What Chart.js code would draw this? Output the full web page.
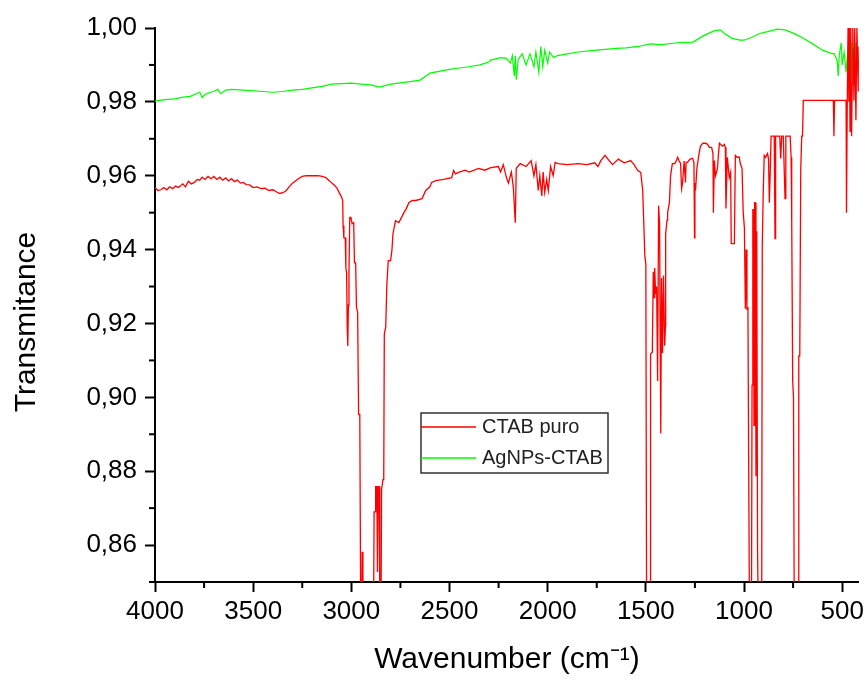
<!DOCTYPE html>
<html>
<head>
<meta charset="utf-8">
<script src="https://cdn.jsdelivr.net/npm/chart.js@4.4.0/dist/chart.umd.min.js"></script>
<style>
body{margin:0;background:#fff;}
#caja{width:868px;height:685px;}
</style>
</head>
<body>
<div id="caja"><canvas id="grafica" width="868" height="685"></canvas></div>
<script>

// CTAB puro (cm-1 / transmitancia)
const ctabWn = [
4000,3985,3970,3955,3940,3925,3910,3895,3880,3858,3845,3830,3815,3800,3785,3772,3760,3745,3730,3715,
3700,3685,3670,3655,3640,3625,3610,3595,3580,3565,3550,3535,3518,3500,3480,3460,3440,3420,3400,3380,
3365,3350,3335,3320,3300,3285,3270,3250,3230,3200,3170,3148,3130,3115,3103,3090,3075,3062,3048,3044,
3042,3038,3031,3028,3024,3021,3018,3015,3012,3008,3002,2996,2988,2984,2978,2974,2968,2963,2957,2952,
2947,2945,2941,2887,2884,2879,2876,2870,2867,2863,2858,2855,2849,2846,2839,2835,2832,2825,2819,2812,
2800,2793,2788,2775,2758,2732,2720,2707,2690,2672,2640,2621,2600,2591,2570,2530,2489,2479,2470,2454,
2420,2400,2352,2320,2290,2251,2240,2226,2210,2200,2185,2175,2165,2160,2140,2110,2084,2070,2060,2048,
2040,2030,2023,2015,2005,1997,1985,1972,1962,1947,1900,1845,1800,1760,1744,1730,1708,1693,1670,1640,
1610,1577,1560,1541,1526,1516,1505,1500,1496,1478,1476,1467,1462,1458,1455,1450,1445,1440,1435,1430,
1424,1420,1415,1410,1404,1400,1399,1392,1389,1380,1374,1365,1353,1345,1338,1330,1323,1318,1313,1305,
1298,1295,1288,1275,1262,1255,1252,1250,1247,1240,1232,1222,1210,1195,1186,1176,1165,1158,1156,1151,
1145,1135,1130,1125,1110,1100,1095,1092,1085,1075,1068,1065,1049,1044,1035,1024,1019,1010,1004,998,
993,989,985,980,976,972,962,959,955,952,949,946,943,939,935,931,927,910,907,902,
897,890,885,880,875,871,867,862,852,846,842,839,830,818,813,808,800,791,787,775,
765,760,757,752,748,744,724,721,716,711,706,702,698,600,545,542,539,480,478,474,
470,466,463,460,456,452,449,446,440,436,430,425,418,415
];
const ctabT = [
0.9568,0.9560,0.9562,0.9568,0.9562,0.9570,0.9565,0.9572,0.9568,0.9578,0.9570,0.9585,0.9578,0.9582,0.9590,0.9588,0.9596,0.9590,0.9598,0.9592,
0.9598,0.9590,0.9596,0.9588,0.9594,0.9586,0.9592,0.9584,0.9588,0.9580,0.9582,0.9576,0.9575,0.9568,0.9570,0.9565,0.9566,0.9560,0.9562,0.9556,
0.9552,0.9554,0.9558,0.9568,0.9580,0.9586,0.9592,0.9598,0.9600,0.9600,0.9600,0.9598,0.9595,0.9588,0.9582,0.9576,0.9568,0.9555,0.9540,0.9533,
0.9465,0.9432,0.9432,0.9350,0.9337,0.9190,0.9139,0.9250,0.9340,0.9487,0.9487,0.9470,0.9473,0.9364,0.9364,0.9245,0.9230,0.8954,0.8954,0.84,
0.84,0.8582,0.84,0.84,0.8690,0.8690,0.8758,0.8758,0.8527,0.8758,0.8758,0.84,0.84,0.8750,0.8777,0.8777,0.9171,0.9190,0.9307,0.9370,
0.9370,0.9400,0.9443,0.9478,0.9473,0.9500,0.9511,0.9527,0.9533,0.9533,0.9538,0.9560,0.9570,0.9582,0.9587,0.9590,0.9595,0.9614,0.9605,0.9609,
0.9615,0.9610,0.9620,0.9615,0.9622,0.9625,0.9610,0.9630,0.9595,0.9580,0.9610,0.9570,0.9473,0.9620,0.9633,0.9625,0.9641,0.9600,0.9630,0.9560,
0.9600,0.9545,0.9610,0.9555,0.9590,0.9560,0.9625,0.9600,0.9636,0.9633,0.9630,0.9633,0.9630,0.9635,0.9625,0.9640,0.9655,0.9645,0.9630,0.9645,
0.9635,0.9641,0.9630,0.9614,0.9609,0.9560,0.9383,0.9360,0.84,0.84,0.9117,0.9122,0.9340,0.9270,0.9350,0.9280,0.9300,0.9044,0.9519,0.9470,
0.8902,0.9323,0.9120,0.9330,0.9140,0.9193,0.9443,0.9480,0.9500,0.9527,0.9600,0.9633,0.9633,0.9640,0.9650,0.9640,0.9633,0.9565,0.9580,0.9640,
0.9582,0.9636,0.9636,0.9645,0.9647,0.9636,0.9432,0.9580,0.9560,0.9620,0.9650,0.9680,0.9688,0.9688,0.9685,0.9677,0.9677,0.9660,0.9500,0.9641,
0.9600,0.9620,0.9660,0.9688,0.9680,0.9685,0.9677,0.9511,0.9650,0.9595,0.9610,0.9416,0.9416,0.9655,0.9650,0.9650,0.9633,0.9620,0.9500,0.9459,
0.9240,0.9400,0.9240,0.9242,0.8796,0.84,0.84,0.9033,0.9508,0.9508,0.8924,0.9527,0.9527,0.8786,0.9450,0.8590,0.84,0.84,0.9410,0.9557,
0.9655,0.9650,0.9655,0.9660,0.9645,0.9527,0.9600,0.9707,0.9707,0.9707,0.9430,0.9707,0.9707,0.9707,0.9647,0.9707,0.9707,0.9538,0.9707,0.9707,
0.9707,0.9650,0.9480,0.9044,0.9000,0.84,0.84,0.9112,0.9112,0.9617,0.9707,0.9707,0.9804,0.9804,0.9804,0.9707,0.9804,0.9804,0.9500,0.9804,
1.0000,0.9800,1.0000,0.9720,1.0000,0.9707,0.9850,1.0000,0.9804,1.0000,0.9750,1.0000,0.9830,0.9950
];

// AgNPs-CTAB
const agWn = [
4000,3950,3900,3858,3820,3800,3772,3760,3745,3720,3700,3680,3665,3640,3610,3550,3500,3450,3400,3350,
3300,3250,3150,3100,3000,2950,2900,2858,2800,2700,2650,2620,2600,2500,2460,2400,2345,2300,2290,2240,
2210,2190,2180,2170,2165,2160,2150,2130,2110,2090,2070,2060,2045,2035,2025,2015,2000,1990,1970,1950,
1900,1845,1750,1650,1600,1540,1477,1420,1340,1260,1210,1150,1120,1100,1060,1020,1000,960,920,880,
830,790,740,700,650,600,560,540,525,520,515,505,500,490,480,470,465,455,450,445,
440,432,425,418,415
];
const agT = [
0.9802,0.9806,0.9808,0.9813,0.9815,0.9820,0.9826,0.9812,0.9820,0.9826,0.9828,0.9834,0.9822,0.9832,0.9834,0.9832,0.9830,0.9828,0.9826,0.9828,
0.9832,0.9834,0.9842,0.9848,0.9851,0.9848,0.9846,0.9840,0.9848,0.9855,0.9859,0.9870,0.9878,0.9888,0.9891,0.9895,0.9900,0.9908,0.9913,0.9920,
0.9918,0.9905,0.9925,0.9870,0.9925,0.9860,0.9915,0.9930,0.9900,0.9930,0.9895,0.9935,0.9880,0.9950,0.9895,0.9940,0.9905,0.9935,0.9920,0.9925,
0.9930,0.9935,0.9940,0.9945,0.9946,0.9950,0.9957,0.9955,0.9960,0.9962,0.9978,0.9993,0.9995,0.9985,0.9972,0.9967,0.9967,0.9975,0.9985,0.9990,
0.9997,0.9995,0.9984,0.9973,0.9957,0.9940,0.9932,0.9930,0.9910,0.9870,0.9925,0.9960,0.9900,0.9935,0.9880,0.9950,0.9870,0.9960,0.9855,0.9940,
0.9845,0.9960,0.9870,0.9920,0.9880
];

const series = ["CTAB puro","AgNPs-CTAB"];
const colores = ["#ff0000","#00ff00"];

const xTicks = [4000,3500,3000,2500,2000,1500,1000,500];
const xMenores = [3750,3250,2750,2250,1750,1250,750];
const yTicks = [0.86,0.88,0.90,0.92,0.94,0.96,0.98,1.00];
const yMenores = [0.85,0.87,0.89,0.91,0.93,0.95,0.97,0.99];

const fuente = "'Liberation Sans', Arial, sans-serif";

// ticks menores, titulo Y y leyenda
const extras = {
id:"extras",
afterDraw(chart){

const ctx = chart.ctx;
const x = chart.scales.x;
const y = chart.scales.y;
const area = chart.chartArea;

ctx.save();
ctx.strokeStyle = "#000";
ctx.lineWidth = 2;

xMenores.forEach(v=>{
const p = x.getPixelForValue(v);
ctx.beginPath();
ctx.moveTo(p,area.bottom);
ctx.lineTo(p,area.bottom+6);
ctx.stroke();
});

yMenores.forEach(v=>{
const p = y.getPixelForValue(v);
ctx.beginPath();
ctx.moveTo(area.left-6,p);
ctx.lineTo(area.left,p);
ctx.stroke();
});

ctx.save();
ctx.translate(27,322);
ctx.rotate(-Math.PI/2);
ctx.font = "30px " + fuente;
ctx.fillStyle = "#000";
ctx.textAlign = "center";
ctx.textBaseline = "middle";
ctx.fillText("Transmitance",0,0);
ctx.restore();

ctx.strokeStyle = "#333";
ctx.lineWidth = 1.5;
ctx.strokeRect(421,413,187,60);

ctx.font = "20px " + fuente;
ctx.textBaseline = "middle";
series.forEach((s,i)=>{
const ly = 427 + i*31;
ctx.strokeStyle = colores[i];
ctx.lineWidth = 1.3;
ctx.beginPath();
ctx.moveTo(421,ly);
ctx.lineTo(476,ly);
ctx.stroke();
ctx.fillStyle = "#222";
ctx.fillText(s,482,ly);
});

ctx.restore();
}
};

new Chart(
document.getElementById("grafica"),
{
type:"line",
data:{
datasets:[
{
label:series[0],
data:ctabWn.map((w,i)=>({x:w,y:ctabT[i]})),
borderColor:colores[0],
borderWidth:1.3
},
{
label:series[1],
data:agWn.map((w,i)=>({x:w,y:agT[i]})),
borderColor:colores[1],
borderWidth:1.2
}
]
},
options:{
responsive:false,
animation:false,
events:[],
layout:{padding:{left:0,right:6,top:28,bottom:0}},
elements:{
point:{radius:0},
line:{tension:0,fill:false}
},
plugins:{
legend:{display:false},
tooltip:{enabled:false}
},
scales:{
x:{
type:"linear",
reverse:true,
min:415,
max:4000,
afterBuildTicks:s=>{ s.ticks = xTicks.map(v=>({value:v})); },
afterFit:s=>{ s.height = 103; },
border:{display:true,color:"#000",width:2},
grid:{drawOnChartArea:false,drawTicks:true,tickLength:10,tickWidth:2,tickColor:"#000"},
ticks:{
color:"#000",
padding:4,
maxRotation:0,
autoSkip:false,
font:{family:fuente,size:26},
callback:v=>String(v)
},
title:{
display:true,
text:"Wavenumber (cm⁻¹)",
color:"#000",
padding:{top:0,bottom:7},
font:{family:fuente,size:30}
}
},
y:{
min:0.85,
max:1.00,
afterBuildTicks:s=>{ s.ticks = yTicks.map(v=>({value:v})); },
afterFit:s=>{ s.width = 155; },
border:{display:true,color:"#000",width:2},
grid:{drawOnChartArea:false,drawTicks:true,tickLength:10,tickWidth:2,tickColor:"#000"},
ticks:{
color:"#000",
padding:8,
autoSkip:false,
font:{family:fuente,size:26},
callback:v=>v.toFixed(2).replace(".",",")
}
}
}
},
plugins:[extras]
});

</script>
</body>
</html>
